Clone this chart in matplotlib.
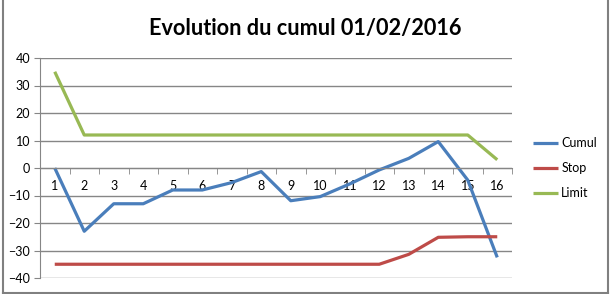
import matplotlib
matplotlib.use("Agg")
import matplotlib.pyplot as plt
from matplotlib.lines import Line2D
from matplotlib.ticker import MultipleLocator, FixedLocator

categories = list(range(1, 17))
cumul = [0, -23, -13, -13, -8, -8, -5.3, -1.3, -11.9, -10.4, -5.8, -0.7, 3.5, 9.6, -4.4, -32.5]
stop = [-35, -35, -35, -35, -35, -35, -35, -35, -35, -35, -35, -35, -31.4, -25.2, -25, -25]
limit = [35, 12, 12, 12, 12, 12, 12, 12, 12, 12, 12, 12, 12, 12, 12, 3]
title = "Evolution du cumul 01/02/2016"

plt.rcParams['font.family'] = ['Lato', 'DejaVu Sans']

fig = plt.figure(figsize=(6.10, 2.94), dpi=100)
ax = fig.add_axes([40/610, 16/294, 472/610, 220/294])

grid_c = "#868686"
ax.set_xlim(0.5, 16.5)
ax.set_ylim(-40, 40)
ax.yaxis.set_major_locator(MultipleLocator(10))
ax.grid(axis='y', color=grid_c, lw=1.0)
ax.set_axisbelow(True)

ax.plot(categories, cumul, color="#4A7EBB", lw=2.3, label="Cumul", solid_capstyle='butt')
ax.plot(categories, stop, color="#BE4B48", lw=2.3, label="Stop", solid_capstyle='butt')
ax.plot(categories, limit, color="#98B954", lw=2.3, label="Limit", solid_capstyle='butt')

for s in ['top', 'right']:
    ax.spines[s].set_visible(False)
ax.spines['bottom'].set_position(('data', 0))
ax.spines['bottom'].set_color(grid_c)
ax.spines['left'].set_color(grid_c)

ax.set_xticks(categories)
ax.set_xticklabels([str(c) for c in categories])
ax.xaxis.set_minor_locator(FixedLocator([c + 0.5 for c in range(0, 17)]))
ax.tick_params(axis='x', which='major', length=0, pad=8.5, labelsize=9)
ax.tick_params(axis='x', which='minor', length=4, color=grid_c, direction='out')
ax.tick_params(axis='y', length=4, color=grid_c, labelsize=9, pad=3)

ax.legend(loc='center left', bbox_to_anchor=(533/610, 1 - 168/294), bbox_transform=fig.transFigure,
          frameon=False, borderpad=0, borderaxespad=0, handlelength=2.0, handletextpad=0.25,
          labelspacing=1.05, fontsize=9)

fig.text(305/610, 1 - 28/294, title, ha='center', va='center', fontsize=15.6, fontweight='bold')

border = "#808080"
fig.add_artist(Line2D([2.5/610, 2.5/610], [0, 1], transform=fig.transFigure, color=border, lw=1.5))
fig.add_artist(Line2D([608/610, 608/610], [0, 1], transform=fig.transFigure, color=border, lw=1.5))
fig.add_artist(Line2D([2.5/610, 608/610], [1.5/294, 1.5/294], transform=fig.transFigure, color=border, lw=1.5))

fig.savefig("out.png", dpi=100)
